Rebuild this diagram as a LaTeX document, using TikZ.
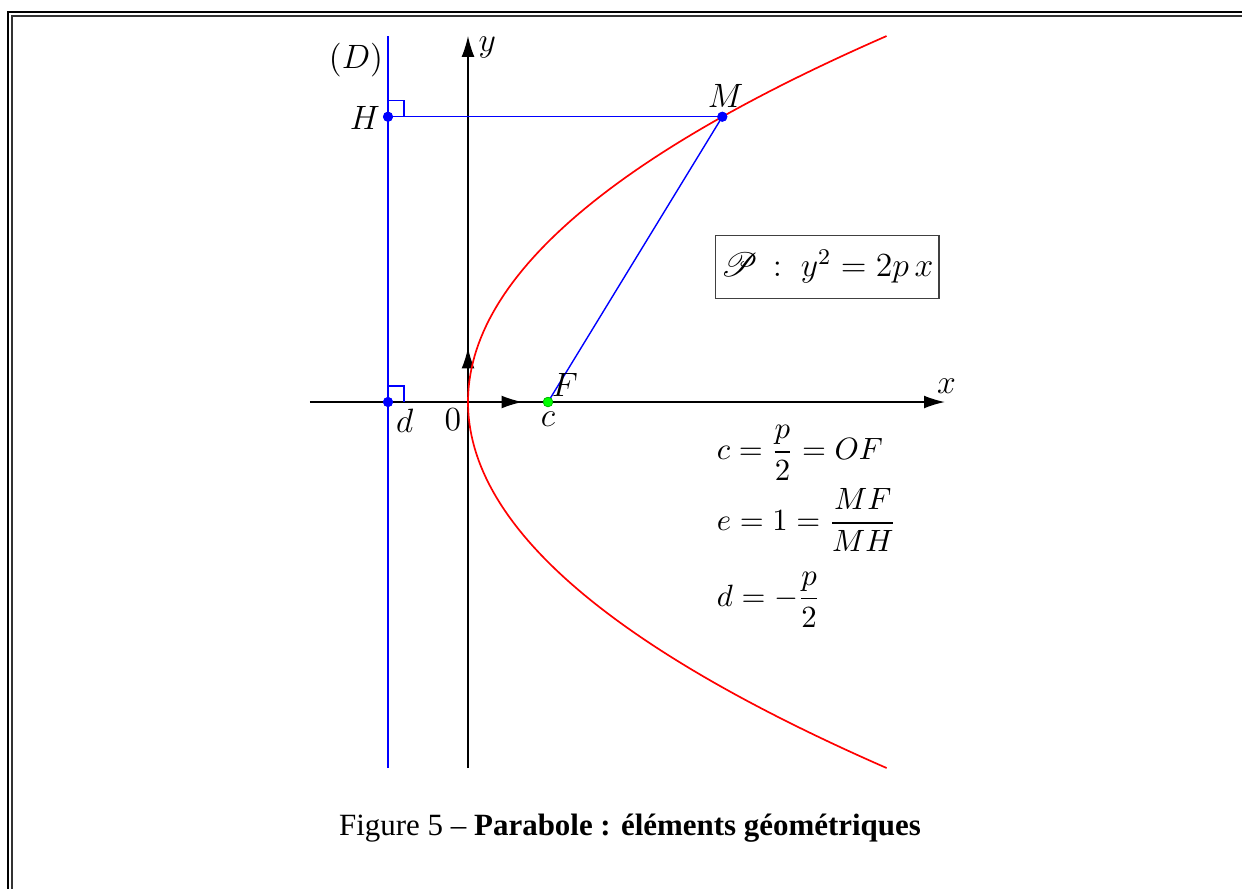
\documentclass[tikz,border=0pt]{standalone}
\usepackage{amsmath}
\usepackage{mathrsfs}
\usepackage{fontspec}
\newfontfamily\capfont[Ligatures=TeX]{Liberation Serif}
\usetikzlibrary{arrows.meta}
\begin{document}
\begin{tikzpicture}[
  axis/.style={black, line width=0.45pt, -{Latex[length=2.6mm,width=1.6mm]}},
  blueline/.style={blue, line width=0.5pt},
  bdot/.style={circle, fill=blue, inner sep=0pt, minimum size=1.25mm},
  gdot/.style={circle, fill=green, draw=green!70!black, line width=0.2pt, inner sep=0pt, minimum size=1.2mm},
  lab/.style={inner sep=1pt, font=\fontsize{12}{14}\selectfont},
  frml/.style={inner sep=1pt, font=\fontsize{11}{13}\selectfont},
  frameouter/.style={black, line width=0.8pt},
  frameinner/.style={black!80, line width=0.4pt}
]
\useasboundingbox (-5.85,-6.075) rectangle (9.675,5.025);
% frame
\draw[frameouter] (-5.75,-6.3) -- (-5.75,4.875) -- (9.9,4.875);
\draw[frameinner] (-5.7,-6.3) -- (-5.7,4.825) -- (9.9,4.825);
% points
\coordinate (O) at (0,0);
\coordinate (xs) at (-1.975,0);
\coordinate (xe) at (5.96,0);
\coordinate (ys) at (0,-4.575);
\coordinate (ye) at (0,4.575);
\coordinate (Ds) at (-1,-4.575);
\coordinate (De) at (-1,4.575);
\coordinate (ui) at (0.68,0);
\coordinate (uj) at (0,0.68);
\pgfmathsetmacro{\yM}{3.566}
\pgfmathsetmacro{\xM}{\yM*\yM/4}
% axes
\draw[axis] (xs) -- (xe);
\draw[axis] (ys) -- (ye);
\draw[axis] (O) -- (ui);
\draw[axis] (O) -- (uj);
% directrix
\draw[blueline] (Ds) -- (De);
% parabola
\draw[red, line width=0.6pt] plot[domain=-4.575:4.575, samples=120, variable=\t] ({\t*\t/4},\t);
% named points
\node[bdot] (H) at (-1,\yM) {};
\node[bdot] (M) at (\xM,\yM) {};
\node[bdot] (d) at (-1,0) {};
\node[gdot] (F) at (1,0) {};
% segments
\draw[blueline] (H.center) -- (M.center);
\draw[blueline] (M.center) -- (F.center);
% right angle marks
\draw[blueline] (-1,\yM+0.2) -| (-0.8,\yM);
\draw[blueline] (-1,0.2) -| (-0.8,0);
\node[bdot] at (H) {};
\node[bdot] at (M) {};
\node[bdot] at (d) {};
\node[gdot] at (F) {};
% labels
\node[lab] (Dlab) at (-1.4,4.275) {$(D)$};
\node[lab] (Hlab) at (-1.29,3.55) {$H$};
\node[lab] (Mlab) at (3.22,3.83) {$M$};
\node[lab] (ylab) at (0.24,4.43) {$y$};
\node[lab] (xlab) at (5.98,0.2) {$x$};
\node[lab] (Flab) at (1.21,0.21) {$F$};
\node[lab] (clab) at (1,-0.22) {$c$};
\node[lab] (dlab) at (-0.79,-0.24) {$d$};
\node[lab] (Olab) at (-0.19,-0.22) {$0$};
% equation box
\node[draw=black!75, line width=0.5pt, minimum width=2.75cm, minimum height=0.79cm, inner sep=2pt, font=\fontsize{12}{14}\selectfont] (eq) at (4.49,1.69) {$\mathscr{P}\,:\;y^2 = 2p\,x$};
% formulas
\node[frml, anchor=west] (f1) at (3.07,-0.64) {$c=\dfrac{p}{2}=OF$};
\node[frml, anchor=west] (f2) at (3.07,-1.48) {$e=1=\dfrac{MF}{MH}$};
\node[frml, anchor=west] (f3) at (3.07,-2.47) {$d=-\dfrac{p}{2}$};
% caption
\node[font=\capfont\fontsize{11}{13}\selectfont] (cap) at (2.025,-5.33) {Figure 5 – \textbf{Parabole : éléments géométriques}};
\end{tikzpicture}
\end{document}
